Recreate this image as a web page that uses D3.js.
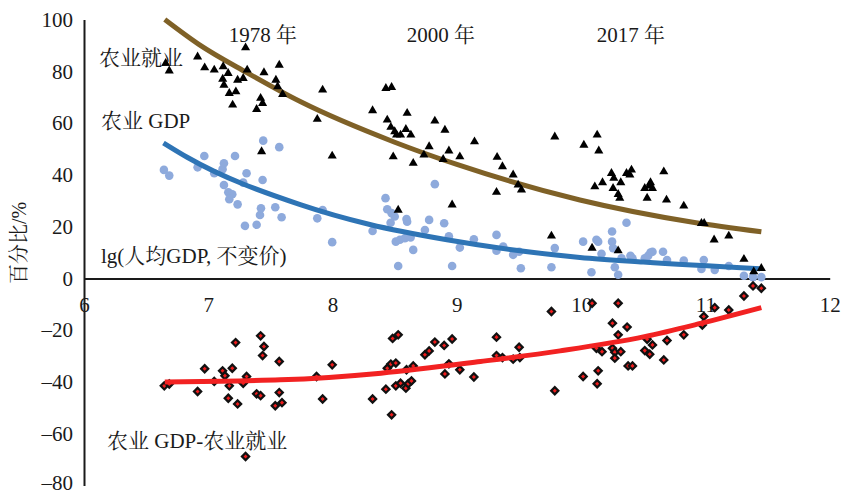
<!DOCTYPE html>
<html>
<head>
<meta charset="utf-8">
<script src="https://cdn.jsdelivr.net/npm/d3@7"></script>
<style>
  html, body { margin: 0; padding: 0; background: #fff; }
  svg text { font-family: "Liberation Serif", "Times New Roman", "Noto Serif CJK SC", "Noto Sans CJK SC", serif; fill: #1a1a1a; }
</style>
</head>
<body>
<svg id="chart" width="843" height="494"></svg>
<script>
// Agricultural employment share (%) against lg(per-capita GDP)
const empX = [6.657,6.686,6.914,6.971,7.048,7.12,7.16,7.116,7.126,7.169,7.222,7.196,7.30,7.313,7.281,7.236,7.448,7.571,7.544,7.558,7.598,7.421,7.437,7.389,7.429,7.92,7.877,7.997,8.429,8.475,8.322,8.44,8.60,8.469,8.50,8.515,8.547,8.59,8.63,8.823,8.904,8.777,8.735,8.936,8.89,9.024,9.142,8.488,8.649,9.324,9.367,9.788,9.453,9.493,9.52,9.319,8.528,8.962,9.761,10.11,10.172,10.244,10.263,10.319,10.257,10.298,10.311,10.365,10.405,10.392,10.558,10.547,10.512,10.574,10.531,10.665,10.687,10.826,10.968,10.99,11.07,11.188,10.088,10.298,11.31,11.389,11.45,10.129,10.022,10.142];
const empY = [83.1,80.2,85.6,81.4,80.5,81.8,79.2,77.0,74.7,71.5,72.1,67.0,89.1,80.5,77.3,76.6,79.5,82.4,76.6,74.1,71.1,69.6,67.6,65.3,49.0,72.8,61.5,47.3,73.4,73.8,64.8,61.2,63.8,58.4,56.7,55.4,55.4,57.6,55.4,60.8,57.3,50.9,47.7,49.3,46.0,47.0,52.8,47.0,44.5,46.8,43.2,54.7,40.0,36.1,34.2,33.3,26.4,28.4,16.4,35.4,37.0,40.6,38.7,37.0,34.8,32.5,31.0,40.6,41.9,40.0,37.0,35.7,34.8,34.8,31.0,41.2,30.3,28.0,21.3,21.3,14.9,16.4,11.7,10.7,7.4,2.6,3.9,55.4,51.5,49.3];

// Agricultural share of GDP (%)
const gdpX = [6.643,6.686,6.914,6.968,7.048,7.115,7.126,7.126,7.161,7.193,7.169,7.236,7.308,7.281,7.437,7.295,7.389,7.416,7.424,7.539,7.59,7.215,7.442,7.571,7.877,7.92,7.997,8.322,8.426,8.44,8.475,8.50,8.467,8.595,8.60,8.509,8.542,8.582,8.628,8.528,8.649,8.743,8.777,8.823,8.898,8.936,8.962,9.024,9.137,9.319,9.319,9.373,9.453,9.501,9.515,9.761,9.788,10.016,10.123,10.137,10.164,10.083,10.249,10.249,10.257,10.365,10.271,10.298,10.325,10.397,10.413,10.512,10.539,10.558,10.574,10.659,10.691,10.826,10.987,10.968,11.075,11.188,11.31,11.383,11.45];
const gdpY = [41.9,39.7,42.9,47.3,40.6,42.2,44.5,36.1,33.3,32.5,30.6,28.6,40.6,37.0,38.0,20.3,20.7,24.5,27.1,27.5,23.6,47.3,53.2,50.7,23.2,26.4,14.0,18.3,31.0,26.7,25.2,23.9,21.5,22.9,21.9,14.2,14.9,15.5,15.8,4.8,11.0,18.7,22.6,36.4,21.3,16.3,4.8,11.9,15.1,16.8,10.7,12.3,9.1,10.3,3.9,4.3,11.7,14.2,14.9,14.2,9.5,2.4,18.1,14.2,11.7,21.5,4.3,1.4,7.8,8.7,7.8,7.8,8.7,10.0,10.3,10.3,7.1,6.9,7.1,3.6,3.3,4.8,1.0,0.5,0.5];

// Agricultural GDP share minus employment share
const diffX = [6.646,6.686,6.914,6.971,7.048,7.115,7.134,7.193,7.169,7.161,7.236,7.22,7.308,7.281,7.30,7.421,7.448,7.437,7.571,7.389,7.421,7.571,7.539,7.593,7.871,7.997,7.92,8.322,8.429,8.475,8.483,8.528,8.44,8.469,8.509,8.509,8.547,8.59,8.609,8.635,8.595,8.649,8.743,8.777,8.823,8.898,8.962,8.904,8.936,9.024,9.137,9.319,9.319,9.367,9.453,9.501,9.507,9.788,9.761,10.252,10.37,10.298,10.531,10.574,10.691,10.826,10.975,10.123,10.168,10.252,10.271,10.319,10.271,10.512,10.552,10.378,10.413,10.665,10.016,10.137,10.129,10.088,10.298,10.987,11.075,11.188,11.31,11.383,11.45];
const diffY = [-41.5,-40.8,-43.7,-34.9,-39.8,-35.7,-37.6,-34.7,-41.5,-46.3,-48.5,-24.8,-37.9,-40.5,-68.8,-22.2,-26.3,-29.8,-32.1,-44.6,-45.3,-44.1,-49.2,-48.0,-37.9,-33.4,-46.6,-46.6,-42.8,-52.7,-23.2,-21.8,-34.7,-33.1,-32.7,-41.5,-40.5,-42.4,-40.7,-39.6,-35.3,-33.8,-29.5,-28.0,-24.6,-25.9,-23.4,-36.9,-33.0,-35.3,-38.1,-22.7,-29.8,-30.6,-31.2,-26.6,-30.6,-43.4,-12.8,-17.3,-18.8,-21.8,-23.5,-25.7,-24.0,-21.8,-18.0,-27.0,-28.3,-27.0,-28.5,-28.3,-30.8,-27.9,-29.3,-33.8,-33.8,-31.5,-37.9,-35.7,-40.7,-9.6,-9.6,-14.7,-11.3,-12.2,-6.8,-2.9,-3.8];

// Fitted trend curves, sampled along lg(per-capita GDP)
const empTrendX = [6.65, 6.93, 7.31, 7.74, 8.5, 9.0, 9.99, 10.9, 11.45];
const empTrendY = [100, 90.2, 79.5, 68.3, 52.6, 44.0, 30.3, 21.7, 18.0];
const gdpTrendX = [6.64, 6.83, 7.74, 8.3, 8.92, 9.99, 10.5, 11.44];
const gdpTrendY = [52.3, 46.8, 28.5, 20.8, 14.9, 8.1, 6.3, 3.7];
const diffTrendX = [6.65, 7.25, 7.58, 8.39, 9.19, 9.83, 10.51, 10.96, 11.45];
const diffTrendY = [-40.0, -39.6, -39.2, -36.6, -32.1, -28.0, -22.5, -17.4, -11.3];

// Axis ticks
const xTicks = [6, 7, 8, 9, 10, 11, 12];
const yTicks = [100, 80, 60, 40, 20, 0, -20, -40, -60, -80];

// Text annotations
const yearLabels = [{text: "1978 年", x: 7.164}, {text: "2000 年", x: 8.596}, {text: "2017 年", x: 10.125}];
const seriesLabels = ["农业就业", "农业 GDP", "lg(人均GDP, 不变价)", "农业 GDP-农业就业"];

const svg = d3.select("#chart");
const x = d3.scaleLinear().domain([6, 12]).range([84, 829.7]);
const y = d3.scaleLinear().domain([-80, 100]).range([485.5, 19.5]);

const zip = (xs, ys) => xs.map((v, i) => [v, ys[i]]);
const line = d3.line().x(d => x(d[0])).y(d => y(d[1])).curve(d3.curveMonotoneX);

// Axes: y axis on the left edge, x axis crossing at 0
const yAxis = svg.append("g")
  .attr("transform", `translate(${x(6)},0)`)
  .call(d3.axisLeft(y).tickValues(yTicks).tickSize(0).tickSizeOuter(0).tickPadding(11)
        .tickFormat(d => d < 0 ? "\u2013" + Math.abs(d) : String(d)));
const xAxis = svg.append("g")
  .attr("transform", `translate(0,${y(0)})`)
  .call(d3.axisBottom(x).tickValues(xTicks).tickSize(0).tickSizeOuter(0).tickPadding(19)
        .tickFormat(d => String(d)));
[yAxis, xAxis].forEach(g => {
  g.select(".domain").attr("stroke", "#1a1a1a").attr("stroke-width", 2);
  g.selectAll("text").attr("font-size", 21).attr("fill", "#1a1a1a")
    .style("font-family", "'Liberation Serif', serif");
});
// keep the lowest label inside the bottom edge
yAxis.selectAll(".tick").filter(d => d === -80).select("text").attr("dy", "0.18em");

// Agricultural GDP share: light blue dots with blue trend
svg.append("g").selectAll("circle").data(zip(gdpX, gdpY)).join("circle")
  .attr("cx", d => x(d[0])).attr("cy", d => y(d[1])).attr("r", 4.3)
  .attr("fill", "#8eaadc");
svg.append("path").datum(zip(gdpTrendX, gdpTrendY))
  .attr("d", line).attr("fill", "none").attr("stroke", "#2e74b5").attr("stroke-width", 5);

// Employment share: brown trend under black triangles
svg.append("path").datum(zip(empTrendX, empTrendY))
  .attr("d", line).attr("fill", "none").attr("stroke", "#7f6127").attr("stroke-width", 5);
const tri = d3.symbol().type(d3.symbolTriangle).size(36);
svg.append("g").selectAll("path").data(zip(empX, empY)).join("path")
  .attr("d", tri).attr("transform", d => `translate(${x(d[0])},${y(d[1])})`)
  .attr("fill", "#000");

// Difference: red-centred black diamonds with red trend on top
const sq = d3.symbol().type(d3.symbolSquare).size(26);
svg.append("g").selectAll("path").data(zip(diffX, diffY)).join("path")
  .attr("d", sq).attr("transform", d => `translate(${x(d[0])},${y(d[1])}) rotate(45)`)
  .attr("fill", "#ee1c1c").attr("stroke", "#111").attr("stroke-width", 2.2);
svg.append("path").datum(zip(diffTrendX, diffTrendY))
  .attr("d", line).attr("fill", "none").attr("stroke", "#f22222").attr("stroke-width", 5);

// Year annotations along the top
svg.append("g").selectAll("text").data(yearLabels).join("text")
  .attr("x", d => x(d.x)).attr("y", 42)
  .attr("font-size", 21).text(d => d.text);

// Series labels
const labelPos = [[99, 65], [101, 128], [101, 263], [107, 448]];
svg.append("g").selectAll("text").data(seriesLabels).join("text")
  .attr("x", (d, i) => labelPos[i][0]).attr("y", (d, i) => labelPos[i][1])
  .attr("font-size", 21).text(d => d);

// Y axis title
svg.append("text")
  .attr("transform", "translate(26,243) rotate(-90)")
  .attr("text-anchor", "middle").attr("font-size", 20)
  .text("百分比/%");
</script>
</body>
</html>
